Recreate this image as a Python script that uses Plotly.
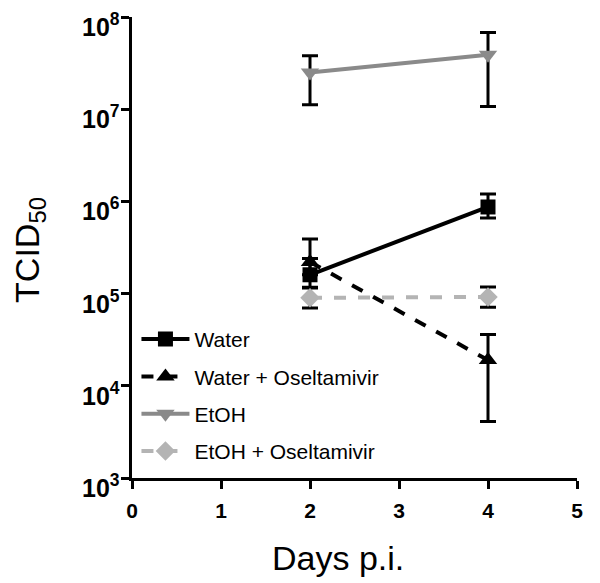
import math
import plotly.graph_objects as go

days = [2, 4]

water = [1.6e5, 8.7e5]
water_hi = [2.4e5, 1.2e6]
water_lo = [1.15e5, 6.6e5]

water_osel = [2.2e5, 1.9e4]
water_osel_hi = [3.9e5, 3.6e4]
water_osel_lo = [1.6e5, 4.1e3]

etoh = [2.5e7, 3.9e7]
etoh_hi = [3.8e7, 6.8e7]
etoh_lo = [1.12e7, 1.07e7]

etoh_osel = [9.0e4, 9.2e4]
etoh_osel_hi = [1.17e5, 1.18e5]
etoh_osel_lo = [7.0e4, 7.1e4]

x_ticks = [0, 1, 2, 3, 4, 5]
y_ticks = [1e3, 1e4, 1e5, 1e6, 1e7, 1e8]
y_ticktext = ["<b>10<sup>3</sup></b>", "<b>10<sup>4</sup></b>", "<b>10<sup>5</sup></b>",
              "<b>10<sup>6</sup></b>", "<b>10<sup>7</sup></b>", "<b>10<sup>8</sup></b>"]

series = [
    ("Water", water, water_hi, water_lo, "black", "solid", "square", 15),
    ("Water + Oseltamivir", water_osel, water_osel_hi, water_osel_lo, "black", "dash", "triangle-up", 16),
    ("EtOH", etoh, etoh_hi, etoh_lo, "#8a8a8a", "solid", "triangle-down", 16),
    ("EtOH + Oseltamivir", etoh_osel, etoh_osel_hi, etoh_osel_lo, "#b4b4b4", "dash", "diamond", 15),
]

fig = go.Figure()
for i, (name, v, hi, lo, col, dash, sym, size) in enumerate(series):
    fig.add_trace(go.Scatter(
        x=days, y=v, name=name, mode="lines+markers", legendgroup="g%d" % i,
        line=dict(color=col, width=4, dash=dash),
        marker=dict(symbol=sym, size=size, color=col),
        error_y=dict(type="data", symmetric=False,
                     array=[h - m for h, m in zip(hi, v)],
                     arrayminus=[m - l for m, l in zip(v, lo)],
                     color="black", thickness=3, width=8),
    ))

tick_annots = [
    dict(text=t, xref="paper", yref="y", x=0, y=math.log10(v),
         xanchor="right", yanchor="middle", xshift=-10, yshift=-8,
         showarrow=False, font=dict(size=25))
    for v, t in zip(y_ticks, y_ticktext)
]

fig.update_layout(
    width=600, height=583,
    margin=dict(l=124, r=31, t=9, b=113, autoexpand=False),
    plot_bgcolor="white", paper_bgcolor="white",
    font=dict(family="Liberation Sans, Arial, sans-serif", color="black"),
    showlegend=True,
    legend=dict(x=0.01, y=0.345, xanchor="left", yanchor="top",
                font=dict(size=21), bgcolor="rgba(0,0,0,0)",
                tracegroupgap=7, itemwidth=48),
    xaxis=dict(range=[0, 5], tickvals=x_ticks, automargin=False,
               ticktext=["<b>%d</b>" % t for t in x_ticks],
               showline=True, linecolor="black", linewidth=3,
               ticks="outside", ticklen=8, tickwidth=3, tickcolor="black",
               showgrid=False, zeroline=False, ticklabelstandoff=4,
               tickfont=dict(size=21)),
    yaxis=dict(type="log", range=[3, 8], tickvals=y_ticks, showticklabels=False,
               automargin=False,
               showline=True, linecolor="black", linewidth=3,
               ticks="outside", ticklen=8, tickwidth=3, tickcolor="black",
               showgrid=False, zeroline=False),
    annotations=tick_annots + [
        dict(text="Days p.i.", xref="paper", yref="paper", x=0.463, y=-0.1735,
             xanchor="center", yanchor="middle", showarrow=False,
             font=dict(size=34)),
        dict(text="TCID<sub>50</sub>", xref="paper", yref="paper", x=-0.229, y=0.495,
             xanchor="center", yanchor="middle", showarrow=False, textangle=-90,
             font=dict(size=34)),
    ],
)

fig.write_html("out.html")
